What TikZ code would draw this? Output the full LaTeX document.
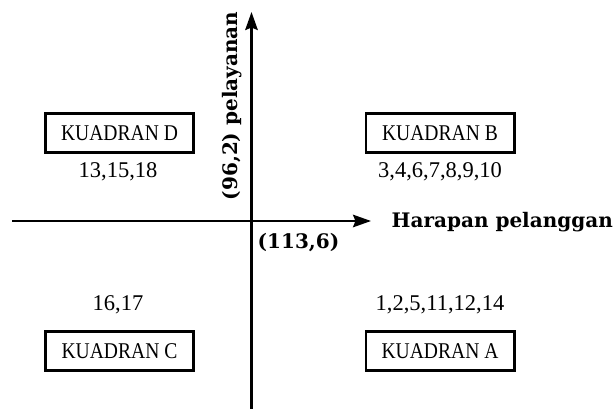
\documentclass[tikz,border=0pt]{standalone}
\usepackage{fontspec}
\setmainfont{Liberation Serif}
\newfontfamily\capsfont[FakeStretch=0.87]{Liberation Serif}
\newfontfamily\axisfont{DejaVu Serif}
\usetikzlibrary{arrows.meta}
\begin{document}
\begin{tikzpicture}[x=1pt,y=-1pt,
  axis/.style={line width=2.4pt,-{Stealth[length=18pt,width=12.5pt,inset=2.5pt]}},
  quadbox/.style={draw,line width=2.6pt,minimum width=148.4pt,minimum height=39.4pt,
    inner sep=0pt,font=\capsfont\fontsize{22.5}{24}\selectfont},
  members/.style={font=\fontsize{22.5}{24}\selectfont,inner sep=0pt},
  axislabel/.style={font=\axisfont\bfseries\fontsize{20}{22}\selectfont,inner sep=0pt}]
  \useasboundingbox (0,0) rectangle (615,409);

  % axes
  \coordinate (xstart) at (12,221);
  \coordinate (xend)   at (371,221);
  \coordinate (ystart) at (251.5,409);
  \coordinate (yend)   at (251.5,12);
  \draw[axis] (xstart) -- (xend);
  \draw[axis] (ystart) -- (yend);

  % axis labels
  \node[axislabel,anchor=base east] (xlab) at (613,227) {Harapan pelanggan};
  \node[axislabel] (origin) at (298.5,243) {(113,6)};
  \node[axislabel,rotate=90] (ylab) at (232,106) {(96,2) pelayanan};

  % quadrants
  \node[quadbox] (qd) at (119.5,133) {KUADRAN D};
  \node[quadbox] (qb) at (440,133) {KUADRAN B};
  \node[quadbox] (qc) at (119.5,351) {KUADRAN C};
  \node[quadbox] (qa) at (440,351) {KUADRAN A};

  % attribute numbers
  \node[members] (nd) at (118,172) {13,15,18};
  \node[members] (nb) at (440,172) {3,4,6,7,8,9,10};
  \node[members] (nc) at (118,305) {16,17};
  \node[members] (na) at (440,305) {1,2,5,11,12,14};
\end{tikzpicture}
\end{document}
